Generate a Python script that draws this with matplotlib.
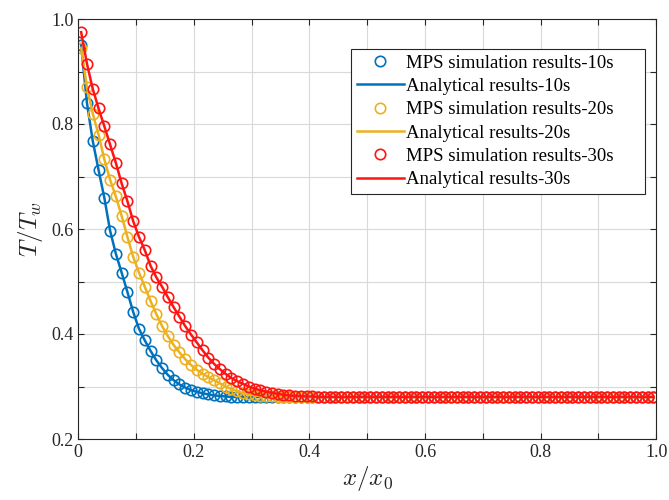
#!/usr/bin/env python3
# -*- coding: utf-8 -*-
"""
Dimensionless temperature profile T/Tw along x/x0: MPS results vs analytical
solution at 10 s, 20 s and 30 s.
"""

import numpy as np
import matplotlib
matplotlib.use('Agg')
import matplotlib.pyplot as plt

plt.rcParams['font.family'] = ['Liberation Serif', 'DejaVu Serif']
plt.rcParams['mathtext.fontset'] = 'cm'

#%%----------------------------------------------------------------------------
# Data, particle positions every 0.01
x = np.arange(0.005, 1.0, 0.01)
plateau = 0.28

T_10 = [0.950, 0.840, 0.768, 0.713, 0.660, 0.597, 0.553, 0.517, 0.480, 0.442,
        0.410, 0.388, 0.368, 0.350, 0.335, 0.322, 0.312, 0.304, 0.298, 0.293,
        0.290, 0.287, 0.285, 0.283, 0.282, 0.281]
T_20 = [0.945, 0.870, 0.820, 0.780, 0.733, 0.694, 0.662, 0.625, 0.585, 0.547,
        0.517, 0.490, 0.463, 0.438, 0.415, 0.396, 0.379, 0.365, 0.352, 0.341,
        0.332, 0.324, 0.318, 0.312, 0.306, 0.300, 0.295, 0.291, 0.287, 0.285,
        0.283, 0.282, 0.281, 0.281]
T_30 = [0.975, 0.915, 0.867, 0.830, 0.796, 0.761, 0.726, 0.687, 0.653, 0.615,
        0.585, 0.560, 0.530, 0.508, 0.490, 0.470, 0.451, 0.433, 0.415, 0.399,
        0.384, 0.369, 0.355, 0.343, 0.333, 0.324, 0.316, 0.310, 0.305, 0.300,
        0.296, 0.293, 0.290, 0.288, 0.286, 0.284, 0.283, 0.282, 0.282, 0.281,
        0.281]

# far field stays at the initial temperature
T_10 = T_10 + [plateau]*(len(x) - len(T_10))
T_20 = T_20 + [plateau]*(len(x) - len(T_20))
T_30 = T_30 + [plateau]*(len(x) - len(T_30))

series = [('10s', T_10, '#0072BD'),
          ('20s', T_20, '#EDB120'),
          ('30s', T_30, '#FF1414')]

#%%----------------------------------------------------------------------------
# Plot
fig = plt.figure(figsize=(6.69, 5.0), dpi=100)
ax = fig.add_axes([0.117, 0.122, 0.864, 0.840])

for name, T, col in series:
    ax.plot(x, T, 'o', mfc='none', mec=col, ms=7.5, mew=1.2,
            label='MPS simulation results-{}'.format(name))
    ax.plot(x, T, '-', color=col, lw=1.8,
            label='Analytical results-{}'.format(name))

ax.set_xlim(0, 1.0)
ax.set_ylim(0.2, 1.0)
xt = np.round(np.arange(0, 1.01, 0.1), 1)
yt = np.round(np.arange(0.2, 1.01, 0.1), 1)
ax.set_xticks(xt)
ax.set_yticks(yt)
ax.set_xticklabels(['0' if v == 0 else ('{:.1f}'.format(v) if round(v*10) % 2 == 0 else '')
                    for v in xt])
ax.set_yticklabels(['{:.1f}'.format(v) if round(v*10) % 2 == 0 else '' for v in yt])
ax.tick_params(direction='in', top=True, right=True, labelsize=13,
               colors='#262626', length=4, width=0.8)
ax.grid(True, color='#d9d9d9', lw=0.8)
ax.set_axisbelow(True)
for s in ax.spines.values():
    s.set_color('#262626')
    s.set_linewidth(0.8)

ax.set_xlabel(r'$x/x_0$', fontsize=18, color='#262626', labelpad=2)
ax.set_ylabel(r'$T/T_w$', fontsize=18, color='#262626', labelpad=4)

# legend box stretched to the width used in the reference
leg = ax.legend(loc='upper left', bbox_to_anchor=(0.472, 0.5, 0.508, 0.429),
                mode='expand', borderaxespad=0,
                fontsize=13.5, handlelength=2.5, handletextpad=0.15,
                labelspacing=0.33, fancybox=False, framealpha=1,
                edgecolor='#262626', borderpad=0.3)
leg.get_frame().set_linewidth(0.8)

fig.savefig('out.png', dpi=100)
